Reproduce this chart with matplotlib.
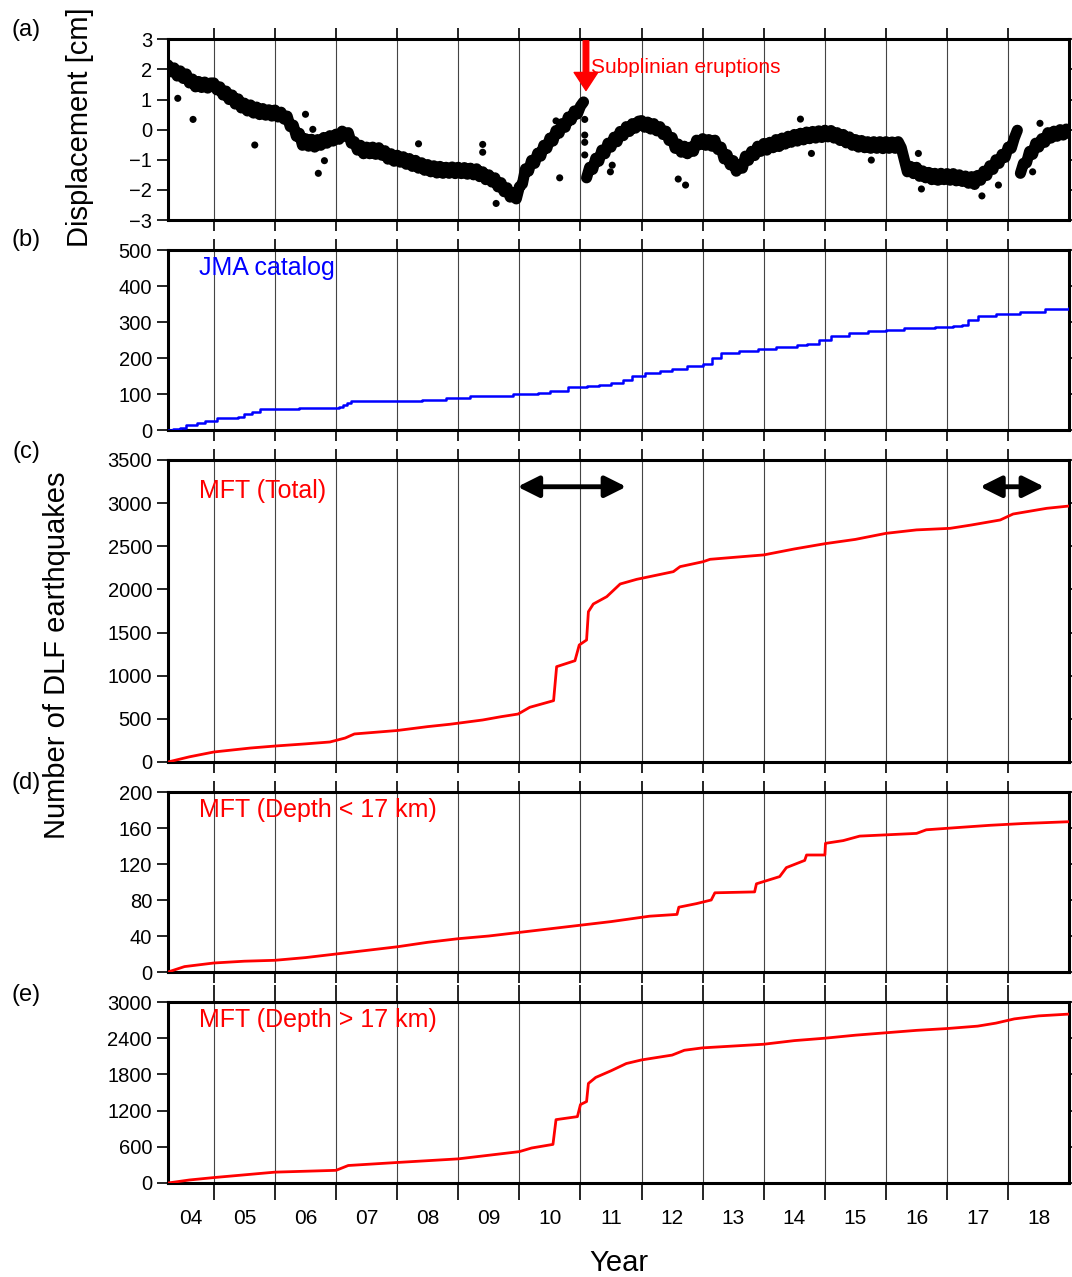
import numpy as np
import matplotlib
matplotlib.use("Agg")
import matplotlib.pyplot as plt

plt.rcParams['font.family'] = ['Liberation Sans', 'DejaVu Sans']

# ---- (a) GNSS displacement, sampled every 0.05 yr, three segments ----
step = 0.05
seg1_start = 2004.25
seg1_disp = [
    2.15, 1.92, 2.05, 1.78, 1.95, 1.70, 1.85, 1.55, 1.68, 1.42, 1.60, 1.40, 1.58, 1.38, 1.55,
    1.55, 1.32, 1.42, 1.15, 1.28, 1.00, 1.15, 0.85, 1.02, 0.72, 0.88, 0.62, 0.82, 0.55, 0.75, 0.50, 0.70, 0.48, 0.66, 0.45,
    0.65, 0.42, 0.58, 0.35, 0.45, 0.10, 0.15, -0.22, -0.12, -0.52, -0.30, -0.55, -0.32, -0.58, -0.33, -0.52, -0.26, -0.45, -0.20, -0.38,
    -0.15, -0.32, -0.05, -0.22, -0.10, -0.45, -0.40, -0.68, -0.52, -0.80, -0.58, -0.80, -0.58, -0.82, -0.60, -0.85, -0.70, -0.98, -0.80, -1.05,
    -0.85, -1.08, -0.90, -1.15, -0.96, -1.22, -1.02, -1.28, -1.10, -1.35, -1.16, -1.40, -1.20, -1.44, -1.22, -1.45, -1.25, -1.45, -1.24, -1.46,
    -1.25, -1.46, -1.26, -1.48, -1.28, -1.50, -1.30, -1.56, -1.40, -1.66, -1.50, -1.74, -1.60, -1.90, -1.76, -2.06, -1.93, -2.24, -2.10, -2.30,
    -1.90, -1.80, -1.30, -1.38, -1.02, -1.12, -0.78, -0.88, -0.52, -0.62, -0.28, -0.38, -0.03, -0.12, 0.20, 0.08, 0.42, 0.32, 0.62, 0.52,
    0.78, 0.92,
]
seg2_start = 2011.10
seg2_disp = [
    -1.60, -1.25, -1.32, -0.95, -1.05, -0.68, -0.80, -0.45, -0.58, -0.25, -0.40, -0.06, -0.20, 0.10, -0.06, 0.20, 0.05, 0.28,
    0.30, 0.08, 0.25, 0.02, 0.20, -0.04, 0.10, -0.16, -0.05, -0.36, -0.26, -0.62, -0.48, -0.75, -0.55, -0.80, -0.58, -0.72, -0.35, -0.50,
    -0.30, -0.52, -0.33, -0.55, -0.35, -0.66, -0.58, -0.97, -0.83, -1.17, -1.03, -1.38, -1.18, -1.28, -0.88, -1.02, -0.72, -0.86, -0.55, -0.72,
    -0.46, -0.68, -0.42, -0.60, -0.33, -0.56, -0.28, -0.48, -0.22, -0.42, -0.16, -0.38, -0.12, -0.34, -0.08, -0.30, -0.06, -0.28, -0.04, -0.26,
    -0.02, -0.24, -0.03, -0.28, -0.10, -0.36, -0.16, -0.44, -0.24, -0.52, -0.33, -0.58, -0.36, -0.60, -0.40, -0.62, -0.40, -0.62, -0.40, -0.63,
    -0.40, -0.62, -0.41, -0.62, -0.40, -0.60, -1.00, -1.40, -1.22, -1.46, -1.25, -1.55, -1.37, -1.60, -1.42, -1.66, -1.45, -1.68, -1.45, -1.66,
    -1.46, -1.68, -1.46, -1.70, -1.50, -1.72, -1.54, -1.78, -1.56, -1.82, -1.52, -1.68, -1.38, -1.52, -1.20, -1.32, -1.00, -1.12, -0.82, -0.92,
    -0.58, -0.62, -0.28, -0.02,
]
seg3_start = 2018.20
seg3_disp = [-1.45, -1.12, -1.10, -0.72, -0.82, -0.45, -0.58, -0.30, -0.42, -0.10,
             -0.28, -0.05, -0.22, 0.00, -0.18, 0.02, -0.12]
outlier_t = [2004.41, 2004.66, 2005.67, 2006.50, 2006.62, 2006.71, 2006.81, 2008.35, 2009.40, 2009.40,
             2009.62, 2010.60, 2010.66, 2011.07, 2011.07, 2011.07, 2011.07, 2011.49, 2011.52, 2012.60,
             2012.72, 2014.60, 2014.78, 2015.76, 2016.53, 2016.58, 2017.57, 2017.84, 2018.40, 2018.52]
outlier_d = [1.04, 0.34, -0.51, 0.51, 0.01, -1.45, -1.03, -0.47, -0.49, -0.75,
             -2.45, 0.29, -1.60, 0.34, -0.18, -0.42, -0.84, -1.40, -1.18, -1.64,
             -1.84, 0.35, -0.79, -1.01, -0.79, -1.97, -2.20, -1.84, -1.40, 0.21]

# ---- (b) JMA catalog cumulative count ----
jma_t = [2004.25, 2004.33, 2004.45, 2004.55, 2004.72, 2004.85, 2005.05, 2005.40, 2005.50, 2005.62,
         2005.75, 2006.40, 2006.70, 2007.05, 2007.12, 2007.18, 2007.25, 2007.90, 2008.40, 2008.80,
         2009.20, 2009.90, 2010.30, 2010.50, 2010.80, 2011.10, 2011.30, 2011.50, 2011.70, 2011.85,
         2012.05, 2012.30, 2012.50, 2012.75, 2013.00, 2013.15, 2013.30, 2013.60, 2013.90, 2014.20,
         2014.55, 2014.70, 2014.90, 2015.10, 2015.40, 2015.70, 2016.00, 2016.30, 2016.80, 2017.10,
         2017.25, 2017.35, 2017.50, 2017.80, 2018.20, 2018.60, 2019.00]
jma_n = [0, 3, 5, 15, 19, 27, 33, 37, 45, 50,
         58, 61, 63, 66, 71, 76, 80, 82, 85, 90,
         94, 100, 103, 110, 120, 123, 126, 132, 140, 150,
         160, 165, 170, 178, 185, 200, 215, 220, 225, 230,
         236, 240, 250, 262, 270, 274, 278, 283, 287, 290,
         292, 305, 318, 322, 328, 335, 340]

# ---- (c) MFT total ----
tot_t = [2004.25, 2004.60, 2005.00, 2005.60, 2006.00, 2006.50, 2006.90, 2007.15, 2007.30, 2008.00,
         2008.50, 2008.86, 2009.40, 2009.70, 2009.98, 2010.17, 2010.56, 2010.61, 2010.91, 2010.98,
         2011.10, 2011.13, 2011.21, 2011.43, 2011.65, 2011.92, 2012.13, 2012.52, 2012.63, 2013.01,
         2013.12, 2013.77, 2014.00, 2014.50, 2015.00, 2015.50, 2016.00, 2016.50, 2017.05, 2017.40,
         2017.87, 2018.08, 2018.63, 2019.00]
tot_n = [0, 60, 116, 162, 185, 210, 232, 278, 325, 365,
         410, 437, 487, 525, 556, 634, 711, 1105, 1174, 1356,
         1414, 1742, 1831, 1916, 2063, 2117, 2148, 2206, 2264, 2322,
         2349, 2387, 2400, 2469, 2530, 2580, 2650, 2690, 2708, 2747,
         2805, 2874, 2940, 2967]

# ---- (d) MFT depth < 17 km ----
shal_t = [2004.25, 2004.52, 2005.00, 2005.50, 2006.00, 2006.50, 2007.00, 2007.50, 2008.00, 2008.50,
          2009.00, 2009.50, 2010.00, 2010.50, 2011.00, 2011.50, 2012.13, 2012.58, 2012.61, 2012.90,
          2013.14, 2013.20, 2013.85, 2013.88, 2014.26, 2014.37, 2014.67, 2014.70, 2015.00, 2015.01,
          2015.30, 2015.57, 2016.50, 2016.66, 2017.07, 2017.70, 2018.25, 2019.00]
shal_n = [0, 6, 10, 12, 13, 16, 20, 24, 28, 33,
          37, 40, 44, 48, 52, 56, 62, 64, 72, 76,
          80, 88, 89, 98, 106, 116, 124, 130, 130, 143,
          146, 151, 154, 158, 160, 163, 165, 167]

# ---- (e) MFT depth > 17 km ----
deep_t = [2004.25, 2004.60, 2005.00, 2006.00, 2007.00, 2007.20, 2008.00, 2009.00, 2009.50, 2010.00,
          2010.20, 2010.55, 2010.60, 2010.95, 2011.00, 2011.10, 2011.13, 2011.25, 2011.50, 2011.75,
          2012.00, 2012.50, 2012.70, 2013.00, 2013.50, 2014.00, 2014.50, 2015.00, 2015.50, 2016.00,
          2016.50, 2017.00, 2017.50, 2017.80, 2018.10, 2018.50, 2019.00]
deep_n = [0, 50, 90, 180, 210, 290, 340, 400, 460, 520,
          580, 640, 1050, 1100, 1300, 1350, 1650, 1750, 1860, 1980,
          2040, 2120, 2200, 2240, 2270, 2300, 2360, 2400, 2450, 2490,
          2530, 2560, 2600, 2650, 2720, 2770, 2800]

year_lines = list(range(2005, 2019))
year_labels = ['04', '05', '06', '07', '08', '09', '10', '11', '12', '13', '14', '15', '16', '17', '18']
x_min, x_max = 2004.25, 2019.0

W, H = 1072, 1277
fig = plt.figure(figsize=(W / 100, H / 100), dpi=100)
left, right = 168 / W, 1069.3 / W


def make_ax(top_px, bot_px):
    ax = fig.add_axes([left, 1 - bot_px / H, right - left, (bot_px - top_px) / H])
    ax.set_xlim(x_min, x_max)
    for y in year_lines:
        ax.axvline(y, color='#444444', lw=0.8, zorder=0)
    ax.set_xticks(year_lines)
    ax.tick_params(axis='x', which='major', direction='out', length=8, width=1.2,
                   top=True, bottom=True, labelbottom=False)
    ax.tick_params(axis='y', direction='out', length=8, width=1.2, right=True, labelsize=14.5)
    for s in ax.spines.values():
        s.set_linewidth(2.2)
    return ax


ax_a = make_ax(39.3, 220)
ax_b = make_ax(250, 430.3)
ax_c = make_ax(460, 762)
ax_d = make_ax(792, 972)
ax_e = make_ax(1002, 1183)

# (a) dense daily band: thick zigzag line plus dots for ragged edges
for start, vals in [(seg1_start, seg1_disp), (seg2_start, seg2_disp), (seg3_start, seg3_disp)]:
    t = start + step * np.arange(len(vals))
    ax_a.plot(t, vals, color='black', lw=8, solid_capstyle='round', solid_joinstyle='round', zorder=3)
    ax_a.scatter(t, vals, s=34, color='black', edgecolors='none', zorder=3)
ax_a.scatter(outlier_t, outlier_d, s=26, color='black', edgecolors='none', zorder=3)
ax_a.set_ylim(-3, 3)
ax_a.set_yticks([-3, -2, -1, 0, 1, 2, 3])
ax_a.set_yticklabels(['\u22123', '\u22122', '\u22121', '0', '1', '2', '3'])
ax_a.annotate('', xy=(2011.09, 1.3), xytext=(2011.09, 2.95),
              arrowprops=dict(facecolor='red', edgecolor='red', width=4, headwidth=17, headlength=13))
ax_a.text(2011.17, 2.08, 'Subplinian eruptions', color='red', fontsize=15, va='center', ha='left')

# (b)
ax_b.plot(jma_t, jma_n, color='blue', lw=1.8, drawstyle='steps-post', zorder=3)
ax_b.set_ylim(0, 500)
ax_b.set_yticks(range(0, 501, 100))
ax_b.text(2004.75, 450, 'JMA catalog', color='blue', fontsize=18, va='center')

# (c)
ax_c.plot(tot_t, tot_n, color='red', lw=2, zorder=3)
ax_c.set_ylim(0, 3500)
ax_c.set_yticks(range(0, 3501, 500))
ax_c.text(2004.75, 3140, 'MFT (Total)', color='red', fontsize=18, va='center')
for x0, x1 in [(2009.97, 2011.75), (2017.54, 2018.59)]:
    ax_c.annotate('', xy=(x1, 3190), xytext=(x0, 3190),
                  arrowprops=dict(arrowstyle='<|-|>', color='black', lw=3.5, mutation_scale=32,
                                  shrinkA=0, shrinkB=0))

# (d)
ax_d.plot(shal_t, shal_n, color='red', lw=2, zorder=3)
ax_d.set_ylim(0, 200)
ax_d.set_yticks(range(0, 201, 40))
ax_d.text(2004.75, 180, 'MFT (Depth < 17 km)', color='red', fontsize=18, va='center')

# (e)
ax_e.plot(deep_t, deep_n, color='red', lw=2, zorder=3)
ax_e.set_ylim(0, 3000)
ax_e.set_yticks(range(0, 3001, 600))
ax_e.text(2004.75, 2700, 'MFT (Depth > 17 km)', color='red', fontsize=18, va='center')
ax_e.tick_params(axis='x', which='major', length=12)
mids = [(x_min + 2005) / 2] + [y + 0.5 for y in range(2005, 2019)]
ax_e.set_xticks(mids, minor=True)
ax_e.set_xticklabels(year_labels, minor=True)
ax_e.tick_params(axis='x', which='minor', length=0, labelsize=15, pad=19, top=False)

# labels
fig.text(80 / W, 1 - 127 / H, 'Displacement [cm]', rotation=90, fontsize=21, ha='center', va='center')
fig.text(57 / W, 1 - 655 / H, 'Number of DLF earthquakes', rotation=90, fontsize=21, ha='center', va='center')
fig.text(619 / W, 1 - 1263 / H, 'Year', fontsize=21, ha='center', va='center')
for lab, ypx in [('(a)', 30), ('(b)', 240), ('(c)', 452), ('(d)', 783), ('(e)', 995)]:
    fig.text(26 / W, 1 - ypx / H, lab, fontsize=17, ha='center', va='center')

fig.savefig('out.png', dpi=100)
